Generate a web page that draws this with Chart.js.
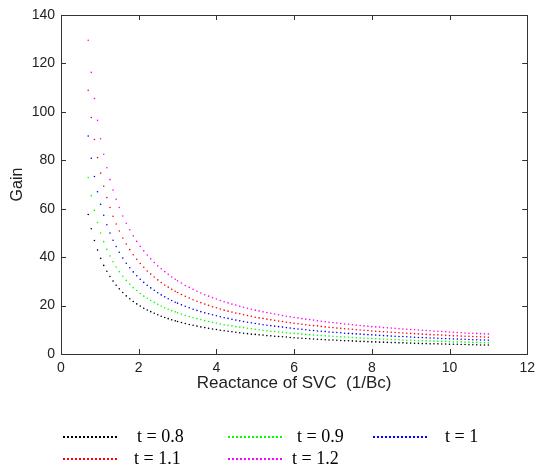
<!DOCTYPE html>
<html>
<head>
  <meta charset="UTF-8">
  <title>Gain vs Reactance of SVC</title>
  <script src="https://cdn.jsdelivr.net/npm/chart.js"></script>
  <style>
    body { margin: 0; background: #fff; }
    #wrap { width: 541px; height: 470px; }
  </style>
</head>
<body>
  <div id="wrap"><canvas id="gainChart" width="541" height="470"></canvas></div>
  <script>
    // Reactance of SVC (1/Bc), shared by all series
    const xValues = [
      0.70, 0.78, 0.86, 0.94, 1.02, 1.10, 1.18, 1.26, 1.34, 1.42, 1.50,
      1.59, 1.68, 1.77, 1.86, 1.95, 2.04, 2.13, 2.22, 2.31, 2.40, 2.49, 2.58, 2.67, 2.76, 2.85, 2.94,
      3.0, 3.1, 3.2, 3.3, 3.4, 3.5, 3.6, 3.7, 3.8, 3.9,
      4.0, 4.1, 4.2, 4.3, 4.4, 4.5, 4.6, 4.7, 4.8, 4.9,
      5.0, 5.1, 5.2, 5.3, 5.4, 5.5, 5.6, 5.7, 5.8, 5.9,
      6.0, 6.1, 6.2, 6.3, 6.4, 6.5, 6.6, 6.7, 6.8, 6.9,
      7.0, 7.1, 7.2, 7.3, 7.4, 7.5, 7.6, 7.7, 7.8, 7.9,
      8.0, 8.1, 8.2, 8.3, 8.4, 8.5, 8.6, 8.7, 8.8, 8.9,
      9.0, 9.1, 9.2, 9.3, 9.4, 9.5, 9.6, 9.7, 9.8, 9.9,
      10.0, 10.1, 10.2, 10.3, 10.4, 10.5, 10.6, 10.7, 10.8, 10.9,
      11.0
    ];

    const gain08 = [
      57.6, 51.7, 46.9, 42.9, 39.5, 36.6, 34.2, 32.0, 30.1, 28.4, 26.9,
      25.4, 24.0, 22.8, 21.7, 20.7, 19.8, 18.9, 18.2, 17.5, 16.8, 16.2, 15.6, 15.1, 14.6, 14.1, 13.7,
      13.4, 13.0, 12.6, 12.2, 11.9, 11.5, 11.2, 10.9, 10.6, 10.3,
      10.1, 9.8, 9.6, 9.4, 9.2, 9.0, 8.8, 8.6, 8.4, 8.2,
      8.1, 7.9, 7.8, 7.6, 7.5, 7.3, 7.2, 7.1, 7.0, 6.8,
      6.7, 6.6, 6.5, 6.4, 6.3, 6.2, 6.1, 6.0, 5.9, 5.8,
      5.8, 5.7, 5.6, 5.5, 5.5, 5.4, 5.3, 5.2, 5.2, 5.1,
      5.0, 5.0, 4.9, 4.9, 4.8, 4.7, 4.7, 4.6, 4.6, 4.5,
      4.5, 4.4, 4.4, 4.3, 4.3, 4.2, 4.2, 4.2, 4.1, 4.1,
      4.0, 4.0, 4.0, 3.9, 3.9, 3.8, 3.8, 3.8, 3.7, 3.7,
      3.7
    ];

    const gain09 = [
      72.9, 65.4, 59.3, 54.3, 50.0, 46.4, 43.2, 40.5, 38.1, 35.9, 34.0,
      32.1, 30.4, 28.8, 27.4, 26.2, 25.0, 23.9, 23.0, 22.1, 21.3, 20.5, 19.8, 19.1, 18.5, 17.9, 17.4,
      17.0, 16.5, 15.9, 15.5, 15.0, 14.6, 14.2, 13.8, 13.4, 13.1,
      12.8, 12.4, 12.1, 11.9, 11.6, 11.3, 11.1, 10.9, 10.6, 10.4,
      10.2, 10.0, 9.8, 9.6, 9.4, 9.3, 9.1, 9.0, 8.8, 8.6,
      8.5, 8.4, 8.2, 8.1, 8.0, 7.8, 7.7, 7.6, 7.5, 7.4,
      7.3, 7.2, 7.1, 7.0, 6.9, 6.8, 6.7, 6.6, 6.5, 6.5,
      6.4, 6.3, 6.2, 6.1, 6.1, 6.0, 5.9, 5.9, 5.8, 5.7,
      5.7, 5.6, 5.5, 5.5, 5.4, 5.4, 5.3, 5.3, 5.2, 5.2,
      5.1, 5.0, 5.0, 5.0, 4.9, 4.9, 4.8, 4.8, 4.7, 4.7,
      4.6
    ];

    const gain10 = [
      90.0, 80.8, 73.3, 67.0, 61.8, 57.3, 53.4, 50.0, 47.0, 44.4, 42.0,
      39.6, 37.5, 35.6, 33.9, 32.3, 30.9, 29.6, 28.4, 27.3, 26.3, 25.3, 24.4, 23.6, 22.8, 22.1, 21.4,
      21.0, 20.3, 19.7, 19.1, 18.5, 18.0, 17.5, 17.0, 16.6, 16.2,
      15.8, 15.4, 15.0, 14.7, 14.3, 14.0, 13.7, 13.4, 13.1, 12.9,
      12.6, 12.4, 12.1, 11.9, 11.7, 11.5, 11.3, 11.1, 10.9, 10.7,
      10.5, 10.3, 10.2, 10.0, 9.8, 9.7, 9.5, 9.4, 9.3, 9.1,
      9.0, 8.9, 8.8, 8.6, 8.5, 8.4, 8.3, 8.2, 8.1, 8.0,
      7.9, 7.8, 7.7, 7.6, 7.5, 7.4, 7.3, 7.2, 7.2, 7.1,
      7.0, 6.9, 6.8, 6.8, 6.7, 6.6, 6.6, 6.5, 6.4, 6.4,
      6.3, 6.2, 6.2, 6.1, 6.1, 6.0, 5.9, 5.9, 5.8, 5.8,
      5.7
    ];

    const gain11 = [
      108.9, 97.7, 88.6, 81.1, 74.7, 69.3, 64.6, 60.5, 56.9, 53.7, 50.8,
      47.9, 45.4, 43.1, 41.0, 39.1, 37.4, 35.8, 34.3, 33.0, 31.8, 30.6, 29.5, 28.5, 27.6, 26.7, 25.9,
      25.4, 24.6, 23.8, 23.1, 22.4, 21.8, 21.2, 20.6, 20.1, 19.5,
      19.1, 18.6, 18.1, 17.7, 17.3, 16.9, 16.6, 16.2, 15.9, 15.6,
      15.2, 14.9, 14.7, 14.4, 14.1, 13.9, 13.6, 13.4, 13.1, 12.9,
      12.7, 12.5, 12.3, 12.1, 11.9, 11.7, 11.6, 11.4, 11.2, 11.0,
      10.9, 10.7, 10.6, 10.4, 10.3, 10.2, 10.0, 9.9, 9.8, 9.7,
      9.5, 9.4, 9.3, 9.2, 9.1, 9.0, 8.9, 8.8, 8.7, 8.6,
      8.5, 8.4, 8.3, 8.2, 8.1, 8.0, 7.9, 7.9, 7.8, 7.7,
      7.6, 7.5, 7.5, 7.4, 7.3, 7.3, 7.2, 7.1, 7.1, 7.0,
      6.9
    ];

    const gain12 = [
      129.6, 116.3, 105.5, 96.5, 88.9, 82.5, 76.9, 72.0, 67.7, 63.9, 60.5,
      57.0, 54.0, 51.3, 48.8, 46.5, 44.5, 42.6, 40.9, 39.3, 37.8, 36.4, 35.2, 34.0, 32.9, 31.8, 30.9,
      30.2, 29.3, 28.3, 27.5, 26.7, 25.9, 25.2, 24.5, 23.9, 23.3,
      22.7, 22.1, 21.6, 21.1, 20.6, 20.2, 19.7, 19.3, 18.9, 18.5,
      18.1, 17.8, 17.4, 17.1, 16.8, 16.5, 16.2, 15.9, 15.6, 15.4,
      15.1, 14.9, 14.6, 14.4, 14.2, 14.0, 13.7, 13.5, 13.3, 13.1,
      13.0, 12.8, 12.6, 12.4, 12.3, 12.1, 11.9, 11.8, 11.6, 11.5,
      11.3, 11.2, 11.1, 10.9, 10.8, 10.7, 10.6, 10.4, 10.3, 10.2,
      10.1, 10.0, 9.9, 9.8, 9.7, 9.6, 9.5, 9.4, 9.3, 9.2,
      9.1, 9.0, 8.9, 8.8, 8.7, 8.6, 8.6, 8.5, 8.4, 8.3,
      8.3
    ];

    const seriesLabels = ['t = 0.8', 't = 0.9', 't = 1', 't = 1.1', 't = 1.2'];
    const seriesColors = ['#000000', '#00ff00', '#0000ff', '#ff0000', '#ff00ff'];
    const seriesGains = [gain08, gain09, gain10, gain11, gain12];

    const xTickValues = [0, 2, 4, 6, 8, 10, 12];
    const yTickValues = [0, 20, 40, 60, 80, 100, 120, 140];

    const datasets = seriesGains.map((g, i) => ({
      label: seriesLabels[i],
      data: xValues.map((x, j) => ({ x: x, y: g[j] })),
      backgroundColor: seriesColors[i],
      borderWidth: 0,
      pointRadius: 0.8,
      pointHoverRadius: 0.8,
      showLine: false
    }));

    // legend slots: [line start x, text x, baseline y]
    const legendSlots = [
      [63, 137, 442], [228, 297, 442], [373, 445, 442],
      [63, 134, 464], [228, 292, 464]
    ];

    // box, inward ticks and the dotted legend underneath
    const matlabAxes = {
      id: 'matlabAxes',
      afterDraw(chart) {
        const ctx = chart.ctx;
        const a = chart.chartArea;
        const xs = chart.scales.x;
        const ys = chart.scales.y;
        const tl = 5;
        ctx.save();
        ctx.strokeStyle = '#333';
        ctx.lineWidth = 1;
        ctx.strokeRect(Math.round(a.left) + 0.5, Math.round(a.top) + 0.5,
          Math.round(a.right - a.left), Math.round(a.bottom - a.top));
        ctx.beginPath();
        xTickValues.forEach(v => {
          const px = Math.round(xs.getPixelForValue(v)) + 0.5;
          ctx.moveTo(px, a.bottom); ctx.lineTo(px, a.bottom - tl);
          ctx.moveTo(px, a.top); ctx.lineTo(px, a.top + tl);
        });
        yTickValues.forEach(v => {
          const py = Math.round(ys.getPixelForValue(v)) + 0.5;
          ctx.moveTo(a.left, py); ctx.lineTo(a.left + tl, py);
          ctx.moveTo(a.right, py); ctx.lineTo(a.right - tl, py);
        });
        ctx.stroke();

        ctx.font = '18px "Liberation Serif", "Times New Roman", serif';
        ctx.textBaseline = 'alphabetic';
        ctx.fillStyle = '#000';
        chart.data.datasets.forEach((ds, i) => {
          const [lx, tx, by] = legendSlots[i];
          ctx.beginPath();
          ctx.setLineDash([2, 2]);
          ctx.strokeStyle = ds.backgroundColor;
          ctx.lineWidth = 2;
          ctx.moveTo(lx, by - 5);
          ctx.lineTo(lx + 55, by - 5);
          ctx.stroke();
          ctx.setLineDash([]);
          ctx.fillText(ds.label, tx, by);
        });
        ctx.restore();
      }
    };

    const axisFont = { family: '"Liberation Sans", Arial, sans-serif', size: 14 };

    new Chart(document.getElementById('gainChart'), {
      type: 'scatter',
      data: { datasets: datasets },
      options: {
        responsive: false,
        animation: false,
        events: [],
        layout: { padding: { left: 0, right: 11, top: 15, bottom: 75 } },
        plugins: {
          legend: { display: false },
          tooltip: { enabled: false }
        },
        scales: {
          x: {
            type: 'linear',
            min: 0,
            max: 12,
            afterBuildTicks: s => { s.ticks = xTickValues.map(v => ({ value: v })); },
            afterFit: s => { s.height = 41; },
            grid: { display: false, drawTicks: false },
            border: { display: false },
            ticks: { color: '#222', font: axisFont, padding: 6, maxRotation: 0 },
            title: {
              display: true,
              text: 'Reactance of SVC  (1/Bc)',
              color: '#222',
              font: { family: axisFont.family, size: 17 },
              padding: { top: 0, bottom: 1 }
            }
          },
          y: {
            type: 'linear',
            min: 0,
            max: 140,
            afterBuildTicks: s => { s.ticks = yTickValues.map(v => ({ value: v })); },
            afterFit: s => { s.width = 61; },
            grid: { display: false, drawTicks: false },
            border: { display: false },
            ticks: { color: '#222', font: axisFont, padding: 6 },
            title: {
              display: true,
              text: 'Gain',
              color: '#222',
              font: { family: axisFont.family, size: 16 },
              padding: { top: 8, bottom: 0 }
            }
          }
        }
      },
      plugins: [matlabAxes]
    });
  </script>
</body>
</html>
